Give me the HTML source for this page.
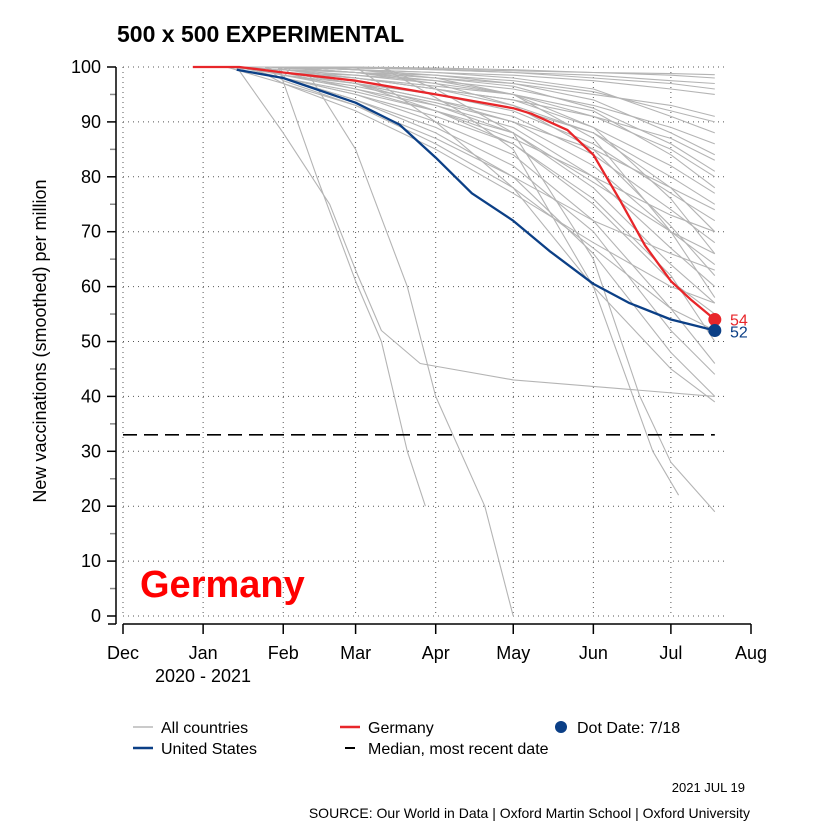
<!DOCTYPE html>
<html><head><meta charset="utf-8"><style>
body{margin:0;background:#fff;}
svg{display:block;font-family:"Liberation Sans",Arial,sans-serif;}
</style></head><body>
<svg id="chart" width="833" height="833" viewBox="0 0 833 833">
<text x="117" y="42" font-size="23" font-weight="bold">500 x 500 EXPERIMENTAL</text>
<text transform="translate(46,341) rotate(-90)" text-anchor="middle" font-size="18">New vaccinations (smoothed) per million</text>
<g id="grid"></g>
<g id="axes"></g>
<g id="gray"></g>
<g id="main"></g>
<text x="140" y="597" font-size="38" font-weight="bold" fill="#ff0000">Germany</text>
<g>
 <line x1="133" y1="727" x2="153" y2="727" stroke="#aaa" stroke-width="1.2"/>
 <text x="161" y="733" font-size="16">All countries</text>
 <line x1="340" y1="727" x2="360" y2="727" stroke="#e8262a" stroke-width="2.5"/>
 <text x="368" y="733" font-size="16">Germany</text>
 <circle cx="561" cy="727" r="6" fill="#0b3f86"/>
 <text x="577" y="733" font-size="16">Dot Date: 7/18</text>
 <line x1="133" y1="748" x2="153" y2="748" stroke="#0b3f86" stroke-width="2.5"/>
 <text x="161" y="754" font-size="16">United States</text>
 <line x1="345" y1="748" x2="355" y2="748" stroke="#000" stroke-width="2"/>
 <text x="368" y="754" font-size="16">Median, most recent date</text>
</g>
<text x="745" y="792" font-size="13" text-anchor="end">2021 JUL 19</text>
<text x="750" y="818" font-size="14" text-anchor="end">SOURCE: Our World in Data | Oxford Martin School | Oxford University</text>
</svg>
<script>
const monthLabels=["Dec","Jan","Feb","Mar","Apr","May","Jun","Jul","Aug"];
const monthDays=[0,31,62,90,121,151,182,212,243];
const yTicks=[0,10,20,30,40,50,60,70,80,90,100];
const bundleDays=[62,90,121,151,182,212,229];
const bundleValues=[
[100,100,99.8,99.5,99,98.5,98],[100,99.5,99,98.5,97.5,96,95],[100,99,98,97,95,93,91],
[100,99,97.5,96,93,89,86],[99.5,98.5,97,95,91,85,80],[99.5,98,96,94,89,82,77],
[99,97.5,95,92,86,77,72],[99,97,94,91,84,74,68],[98.5,96.5,93.5,90,82,70,64],
[98.5,96,93,89,80,67,60],[98,95.5,92,88,78,64,57],[98,95,91,86,75,61,55],
[99,97,93,88,79,70,66],[99.5,98,96,93,88,80,75],[100,99.5,98.5,97,94,88,84],
[99,97,92,86,76,62,50],[98,95,90,84,72,56,46],[98,94,89,82,70,52,44],
[97,93,87,80,66,48,40],[99,98,96,94,91,87,83],[100,99,98,96.5,92.5,86,81],
[99,96,92,87,80,73,70],[100,100,99.5,99,98,97,96],[100,99.8,99.5,99,98.5,97.5,97],
[99,97,94,90,85,78,74],[98,94,88,80,72,66,63],[97,92,85,77,68,60,57],
[97.5,93,86,78,67,56,52],[100,99.5,99,98,96,91,88],[99.5,99,98.5,97.5,95.5,92,90],
[99,98,96.5,95,92,84,78],[98.5,97,95,92.5,88,78,70],[100,99.8,99.6,99.3,99,98.8,98.6],
[99.8,99,97,93,85,71,62],[99,98.5,97.5,95,89,76,66],[100,99.5,98,95,87,70,58]
];
const steepLines=[
[[44,100],[62,88],[80,75],[90,63],[100,52],[115,46],[151,43],[229,40]],
[[60,100],[75,80],[90,61],[100,50],[110,30],[117,20]],
[[70,100],[90,85],[110,60],[121,40],[140,20],[151,0]],
[[100,100],[121,96],[151,88],[182,65],[200,40],[212,28],[229,19]],
[[100,100],[130,92],[151,85],[182,60],[205,30],[215,22]],
[[90,100],[121,90],[151,78],[182,60],[212,45],[229,39]]
];
const germanyDays=[27,45,62,90,121,151,158,172,182,192,202,212,220,229];
const germanyValues=[100,100,99,97.5,95,92.5,91.5,88.5,84,76,67.5,61,57.5,54];
const usDays=[44,62,90,107,121,135,151,165,182,196,212,229];
const usValues=[99.5,98,93.5,89.5,83.5,77,72,66.5,60.5,57,54,52];
const medianValue=33;
const NS="http://www.w3.org/2000/svg";
const X0=123,PXD=628/243,Y0=616,PXV=5.49;
const xs=d=>X0+d*PXD, ys=v=>Y0-v*PXV;
function mk(tag,attrs,parent){const e=document.createElementNS(NS,tag);for(const k in attrs)e.setAttribute(k,attrs[k]);parent.appendChild(e);return e;}
const grid=document.getElementById('grid'),axes=document.getElementById('axes');
monthDays.slice(0,8).forEach(d=>{const l=mk('line',{x1:xs(d),x2:xs(d),y1:ys(100),y2:ys(0),stroke:'#555','stroke-width':1,'stroke-dasharray':'1 4'},grid);

});
yTicks.forEach(v=>{const l=mk('line',{x1:X0,x2:xs(229)+10,y1:ys(v),y2:ys(v),stroke:'#555','stroke-width':1,'stroke-dasharray':'1 4'},grid);


const t=mk('line',{x1:107,x2:116,y1:ys(v),y2:ys(v),stroke:'#000','stroke-width':1.5},axes);


if(v<100){const m=mk('line',{x1:110,x2:116,y1:ys(v+5),y2:ys(v+5),stroke:'#888','stroke-width':1.5},axes);

}
const tx=mk('text',{x:101,y:ys(v)+6,'text-anchor':'end','font-size':18},axes);tx.textContent=v;

});
mk('line',{x1:116,x2:116,y1:ys(100),y2:ys(0)+8,stroke:'#000','stroke-width':1.5},axes);
mk('line',{x1:108,x2:116,y1:ys(0)+8,y2:ys(0)+8,stroke:'#000','stroke-width':1.5},axes);
mk('line',{x1:X0,x2:xs(243),y1:624,y2:624,stroke:'#000','stroke-width':1.5},axes);
monthDays.forEach((d,i)=>{const t=mk('line',{x1:xs(d),x2:xs(d),y1:624,y2:634,stroke:'#000','stroke-width':1.5},axes);


const tx=mk('text',{x:xs(d),y:659,'text-anchor':'middle','font-size':18},axes);tx.textContent=monthLabels[i];

});
const yr=mk('text',{x:203,y:682,'text-anchor':'middle','font-size':18},axes);yr.textContent='2020 - 2021';


const gray=document.getElementById('gray');
function poly(pts,parent,stroke,w,name){const p=mk('polyline',{points:pts.map(q=>xs(q[0]).toFixed(1)+','+ys(q[1]).toFixed(1)).join(' '),fill:'none',stroke:stroke,'stroke-width':w,'stroke-linejoin':'round'},parent);

return p;}
bundleValues.forEach((vals,i)=>{const start=[[40+(i%6)*5,100]];poly(start.concat(bundleDays.map((d,j)=>[d,vals[j]])),gray,'#b4b4b4',1.1,'country-line');});
steepLines.forEach(s=>poly(s,gray,'#b4b4b4',1.1,'country-line'));
const main=document.getElementById('main');
const med=mk('line',{x1:X0,x2:xs(229),y1:ys(medianValue),y2:ys(medianValue),stroke:'#000','stroke-width':1.6,'stroke-dasharray':'14 7'},main);


poly(usDays.map((d,i)=>[d,usValues[i]]),main,'#0b3f86',2.3,'us-line');
poly(germanyDays.map((d,i)=>[d,germanyValues[i]]),main,'#e8262a',2.3,'germany-line');
const gd=germanyValues[germanyValues.length-1],ud=usValues[usValues.length-1];
const c1=mk('circle',{cx:xs(229),cy:ys(gd),r:6.5,fill:'#e8262a'},main);


const c2=mk('circle',{cx:xs(229),cy:ys(ud),r:6.5,fill:'#0b3f86'},main);


const l1=mk('text',{x:730,y:ys(gd)+6,'font-size':16,fill:'#e8262a'},main);l1.textContent=gd;


const l2=mk('text',{x:730,y:ys(ud)+7,'font-size':16,fill:'#0b3f86'},main);l2.textContent=ud;


</script>
</body></html>
